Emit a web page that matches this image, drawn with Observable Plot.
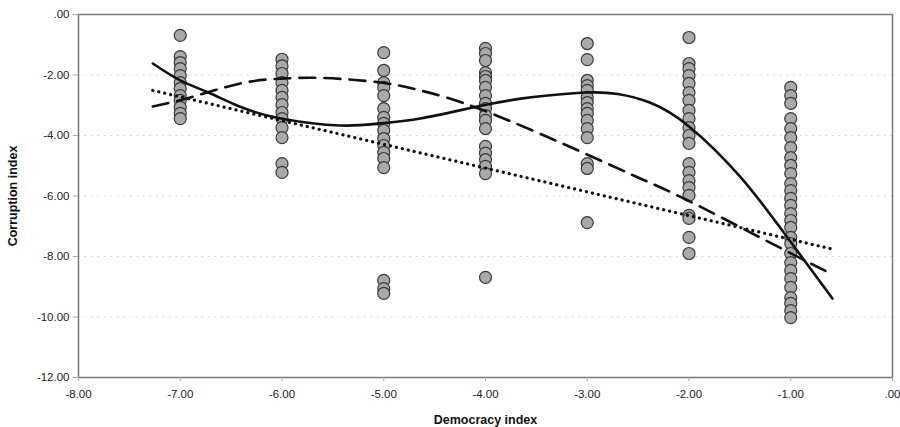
<!DOCTYPE html>
<html>
<head>
<meta charset="utf-8">
<script src="https://cdn.jsdelivr.net/npm/d3@7"></script>
<script src="https://cdn.jsdelivr.net/npm/@observablehq/plot@0.6"></script>
<style>
  html, body { margin: 0; padding: 0; background: #fff; }
  #chart { width: 900px; height: 427px; }
</style>
</head>
<body>
<div id="chart"></div>
<script>
// Democracy index columns and corruption index values
const colM7 = [-0.69,-1.39,-1.59,-1.79,-2.02,-2.25,-2.45,-2.68,-2.84,-3.07,-3.27,-3.44];
const colM6 = [-1.48,-1.70,-1.95,-2.25,-2.51,-2.74,-2.98,-3.24,-3.44,-3.74,-4.07,-4.93,-5.22];
const colM5 = [-1.26,-1.85,-2.25,-2.41,-2.68,-3.11,-3.40,-3.60,-3.83,-4.10,-4.33,-4.56,-4.76,-5.06,-8.79,-9.06,-9.22];
const colM4 = [-1.12,-1.29,-1.52,-1.92,-2.05,-2.18,-2.41,-2.68,-2.94,-3.11,-3.34,-3.50,-3.77,-4.36,-4.58,-4.80,-5.02,-5.26,-8.69];
const colM3 = [-0.96,-1.49,-2.18,-2.35,-2.51,-2.74,-2.91,-3.11,-3.27,-3.50,-3.77,-4.07,-4.93,-5.09,-6.88];
const colM2 = [-0.76,-1.62,-1.79,-2.02,-2.28,-2.58,-2.84,-3.17,-3.44,-3.74,-4.00,-4.26,-4.93,-5.22,-5.49,-5.72,-5.98,-6.64,-6.74,-7.37,-7.90];
const colM1 = [-2.41,-2.68,-2.94,-3.44,-3.77,-4.07,-4.40,-4.73,-4.99,-5.26,-5.59,-5.82,-6.08,-6.31,-6.58,-6.81,-7.04,-7.37,-7.57,-7.90,-8.20,-8.46,-8.73,-9.02,-9.36,-9.55,-9.79,-10.02];
const columns = [[-7, colM7], [-6, colM6], [-5, colM5], [-4, colM4], [-3, colM3], [-2, colM2], [-1, colM1]];

// Fitted curves
const solidX = [-7.27,-7.00,-6.73,-6.41,-6.01,-5.43,-5.03,-4.64,-4.02,-3.53,-3.02,-2.70,-2.38,-2.00,-1.50,-1.07,-0.59];
const solidY = [-1.62,-2.18,-2.57,-3.05,-3.44,-3.67,-3.60,-3.44,-3.00,-2.73,-2.58,-2.63,-2.92,-3.70,-5.35,-7.20,-9.39];
const dashX = [-7.27,-6.90,-6.41,-6.01,-5.59,-5.03,-4.64,-4.02,-3.02,-2.48,-2.01,-1.17,-0.61];
const dashY = [-3.04,-2.74,-2.28,-2.12,-2.10,-2.25,-2.51,-3.17,-4.60,-5.42,-6.15,-7.60,-8.56];
const dotX = [-7.27, -0.61];
const dotY = [-2.51, -7.74];

const xTicks = [-8,-7,-6,-5,-4,-3,-2,-1,0];
const yTicks = [0,-2,-4,-6,-8,-10,-12];
const gridY = [-2,-4,-6,-8,-10];

const points = columns.flatMap(([x, ys]) => ys.map(y => ({x, y})));
const solid = solidX.map((x, i) => ({x, y: solidY[i]}));
const dashed = dashX.map((x, i) => ({x, y: dashY[i]}));
const dotted = dotX.map((x, i) => ({x, y: dotY[i]}));

const fmt = d => d === 0 ? ".00" : d.toFixed(2);

const chart = Plot.plot({
  width: 900,
  height: 427,
  marginLeft: 78,
  marginRight: 8,
  marginTop: 14,
  marginBottom: 50,
  style: {fontFamily: "'Liberation Sans', Arial, sans-serif", fontSize: "11.5px", color: "#222", background: "#fff"},
  x: {domain: [-8, 0]},
  y: {domain: [-12, 0]},
  marks: [
    Plot.ruleY(gridY, {stroke: "#d4d4d4", strokeDasharray: "1.5,5"}),
    Plot.dot(points, {x: "x", y: "y", r: 6, fill: "#a9a9a9", stroke: "#3a3a3a", strokeWidth: 1.2}),
    Plot.line(dotted, {x: "x", y: "y", stroke: "#111", strokeWidth: 3.2, strokeDasharray: "0.1,6", strokeLinecap: "round"}),
    Plot.line(dashed, {x: "x", y: "y", stroke: "#111", strokeWidth: 2.6, strokeDasharray: "16,9", curve: "natural"}),
    Plot.line(solid, {x: "x", y: "y", stroke: "#111", strokeWidth: 2.6, curve: "natural"}),
    Plot.frame({stroke: "#777", strokeWidth: 1.5}),
    Plot.axisX({ticks: xTicks, tickFormat: fmt, tickSize: 4, tickPadding: 8, stroke: "#aaa",
      fill: "#222", label: null, fontSize: 11.5}),
    Plot.axisY({ticks: yTicks, tickFormat: fmt, tickSize: 5, tickPadding: 4, stroke: "#aaa",
      fill: "#222", label: null, fontSize: 11.5}),
    Plot.axisX({ticks: [], label: "Democracy index", labelAnchor: "center", labelArrow: "none",
      labelOffset: 46, fontSize: 12.5, fontWeight: "bold", tickSize: 0}),
    Plot.axisY({ticks: [], label: "Corruption index", labelAnchor: "center", labelArrow: "none",
      labelOffset: 70, fontSize: 12.5, fontWeight: "bold", tickSize: 0})
  ]
});
document.getElementById("chart").appendChild(chart);
chart.querySelectorAll("g[aria-label='x-axis label'] text, g[aria-label='y-axis label'] text").forEach(t => {
  t.setAttribute("font-weight", "bold");
  t.setAttribute("font-size", "12.5");
  t.setAttribute("fill", "#111");
});
</script>
</body>
</html>
